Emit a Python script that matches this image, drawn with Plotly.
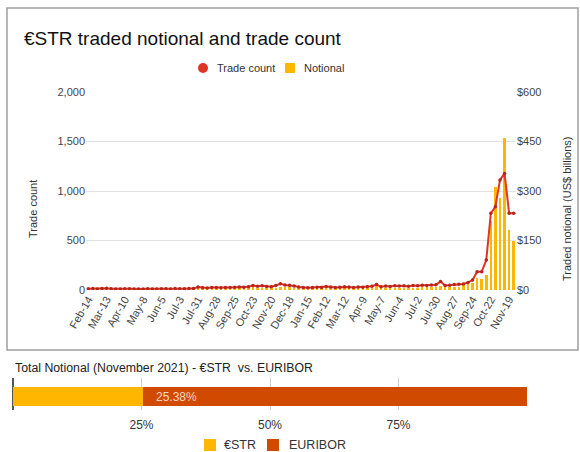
import pandas as pd
import plotly.graph_objects as go

W, H = 580, 452

# Weekly €STR swap activity, weeks starting 2020-02-14
week_start = "2020-02-14"
trade_count = [
    12, 14, 10, 15, 18, 12, 10, 11, 13, 12, 10, 9, 11, 12, 10, 11, 13, 12, 11, 14, 13, 12, 15, 14,
    30, 22, 20, 24, 26, 22, 25, 24, 27, 30, 28, 32,
    45, 38, 42, 36, 34, 45, 62, 50, 48, 40, 30, 25,
    22, 24, 28, 26, 35, 30, 25, 28, 32, 30, 26, 30,
    28, 34, 38, 55, 32, 40, 36, 44, 40, 42, 38, 45,
    42, 48, 46, 50, 52, 85, 45, 48, 55, 57, 60, 77,
    100, 185, 185, 303, 775, 842, 1111, 1178, 775, 775,
]
notional_bn = [
    1, 2, 1, 2, 2, 1, 1, 1, 2, 1, 1, 1, 1, 2, 1, 1, 2, 1, 1, 2, 2, 1, 2, 2,
    4, 3, 3, 3, 4, 3, 4, 3, 4, 5, 4, 5,
    8, 6, 7, 6, 5, 7, 10, 9, 8, 7, 5, 4,
    3, 4, 4, 4, 5, 5, 4, 4, 5, 5, 4, 5,
    5, 6, 7, 22, 5, 6, 6, 7, 6, 7, 6, 7,
    7, 8, 8, 9, 9, 12, 8, 8, 9, 10, 14, 18,
    20, 36, 33, 45, 208, 312, 280, 462, 182, 150,
]
tick_labels = [
    "Feb-14", "Mar-13", "Apr-10", "May-8", "Jun-5", "Jul-3", "Jul-31", "Aug-28",
    "Sep-25", "Oct-23", "Nov-20", "Dec-18", "Jan-15", "Feb-12", "Mar-12", "Apr-9",
    "May-7", "Jun-4", "Jul-2", "Jul-30", "Aug-27", "Sep-24", "Oct-22", "Nov-19",
]
count_ticks = [0, 500, 1000, 1500, 2000]
notional_ticks = [0, 150, 300, 450, 600]

# November 2021 share of total notional
share_names = ["€STR", "EURIBOR"]
share_values = [25.38, 74.62]
share_ticks = [25, 50, 75]

weeks = pd.date_range(week_start, periods=len(trade_count), freq="7D").strftime("%Y-%m-%d").tolist()

YELLOW = "#FFB600"
ORANGE = "#D04A02"
RED = "#DE3526"
DARK_RED = "#B8241A"
TICK_GREY = "#444444"
TEXT = "#333333"
FONT = "Arial, Liberation Sans, sans-serif"


def px_x(p):
    return p / W


def px_y(p):
    return 1 - p / H


fig = go.Figure()

fig.add_trace(go.Bar(
    x=weeks, y=notional_bn, name="Notional", marker=dict(color=YELLOW, line=dict(width=0)),
    width=0.55, xaxis="x", yaxis="y", showlegend=False,
))
fig.add_trace(go.Scatter(
    x=weeks, y=trade_count, mode="lines+markers", name="Trade count",
    line=dict(color=RED, width=2), marker=dict(size=3.5, color=DARK_RED),
    xaxis="x", yaxis="y2", showlegend=False,
))

share_colors = [YELLOW, ORANGE]
for name, val, col in zip(share_names, share_values, share_colors):
    fig.add_trace(go.Bar(
        y=["Total"], x=[val], orientation="h", name=name,
        marker=dict(color=col, line=dict(width=0)), width=0.62,
        xaxis="x3", yaxis="y3", showlegend=False,
    ))

# compact key rows: (swatch shape, colour, label, swatch left px, text left px, centre y px, size px, font px)
key_items = [
    ("circle", RED, "Trade count", 198, 215, 68, 10, 11),
    ("rect", YELLOW, "Notional", 285, 302, 68, 10, 11),
    ("rect", share_colors[0], share_names[0], 204, 222, 445, 12, 12.5),
    ("rect", share_colors[1], share_names[1], 267, 287, 445, 12, 12.5),
]
key_shapes, key_texts = [], []
for kind, col, label, sx, tx, cy, s, fs in key_items:
    key_shapes.append(dict(
        type=kind, xref="paper", yref="paper",
        x0=px_x(sx), x1=px_x(sx + s), y0=px_y(cy + s / 2), y1=px_y(cy - s / 2),
        fillcolor=col, line=dict(width=0),
    ))
    key_texts.append(dict(
        text=label, xref="paper", yref="paper", x=px_x(tx), y=px_y(cy),
        xanchor="left", yanchor="middle", showarrow=False,
        font=dict(family=FONT, size=fs, color=TEXT),
    ))

tick_font = dict(family=FONT, size=11, color=TICK_GREY)

fig.update_layout(
    template="none",
    width=W, height=H, margin=dict(l=0, r=0, t=0, b=0, pad=0, autoexpand=False),
    paper_bgcolor="white", plot_bgcolor="white",
    font=dict(family=FONT, color=TEXT),
    barmode="stack",
    showlegend=False,
    xaxis=dict(
        domain=[px_x(86), px_x(516)], anchor="y", type="category",
        range=[-0.5, len(weeks) - 0.5], automargin=False, color=TICK_GREY,
        tickmode="array", tickvals=weeks[::4], ticktext=tick_labels,
        tickangle=-60, tickfont=tick_font, showgrid=False, ticks="",
        showline=False, zeroline=False,
    ),
    yaxis=dict(
        domain=[px_y(290), px_y(92)], anchor="x", side="right", automargin=False,
        color=TICK_GREY, range=[0, 600], tickmode="array", tickvals=notional_ticks,
        ticktext=[f"${v}" for v in notional_ticks], tickfont=tick_font,
        gridcolor="#e2e2e2", gridwidth=1, zeroline=False, showline=False, ticks="",
    ),
    yaxis2=dict(
        overlaying="y", side="left", anchor="x", automargin=False, color=TICK_GREY,
        range=[0, 2000], tickmode="array", tickvals=count_ticks,
        ticktext=[f"{v:,}" for v in count_ticks], tickfont=tick_font, showgrid=False,
        zeroline=False, showline=False, ticks="",
    ),
    xaxis3=dict(
        domain=[px_x(13), px_x(527)], anchor="y3", range=[0, 100], automargin=False,
        color=TEXT, tickmode="array", tickvals=share_ticks,
        ticktext=[f"{v}%" for v in share_ticks],
        tickfont=dict(family=FONT, size=12, color=TEXT),
        showgrid=True, gridcolor="#cccccc", gridwidth=1, zeroline=True, zerolinecolor="#555555",
        zerolinewidth=2, showline=False, ticks="", ticklabelstandoff=6,
    ),
    yaxis3=dict(
        domain=[px_y(410), px_y(378)], anchor="x3", type="category", automargin=False,
        range=[-0.42, 0.58], showticklabels=False, showgrid=False,
        zeroline=False, showline=False, ticks="",
    ),
    shapes=[dict(
        type="rect", xref="paper", yref="paper",
        x0=px_x(7), x1=px_x(578), y0=px_y(350), y1=px_y(8),
        line=dict(color="#9e9e9e", width=1.5), fillcolor="rgba(0,0,0,0)", layer="below",
    )] + key_shapes,
    annotations=[
        dict(text="€STR traded notional and trade count", xref="paper", yref="paper",
             x=px_x(22), y=px_y(38), xanchor="left", yanchor="middle", showarrow=False,
             font=dict(family=FONT, size=19, color="#111111")),
        dict(text="Trade count", xref="paper", yref="paper", x=px_x(33), y=px_y(209),
             textangle=-90, showarrow=False, xanchor="center", yanchor="middle",
             font=dict(family=FONT, size=11, color=TEXT)),
        dict(text="Traded notional (US$ billions)", xref="paper", yref="paper",
             x=px_x(567), y=px_y(209), textangle=-90, showarrow=False,
             xanchor="center", yanchor="middle",
             font=dict(family=FONT, size=11, color=TEXT)),
        dict(text="Total Notional (November 2021) - €STR \u00a0vs. EURIBOR", xref="paper",
             yref="paper", x=px_x(13), y=px_y(368), xanchor="left", yanchor="middle",
             showarrow=False, font=dict(family=FONT, size=12.3, color="#222222")),
        dict(text=f"{share_values[0]:.2f}%", xref="x3", yref="y3", x=share_values[0], y=0,
             xanchor="left", yanchor="middle", xshift=11, showarrow=False,
             font=dict(family=FONT, size=12, color="#F7D6C2")),
    ] + key_texts,
)

fig.write_html("out.html", config={"displayModeBar": False})
